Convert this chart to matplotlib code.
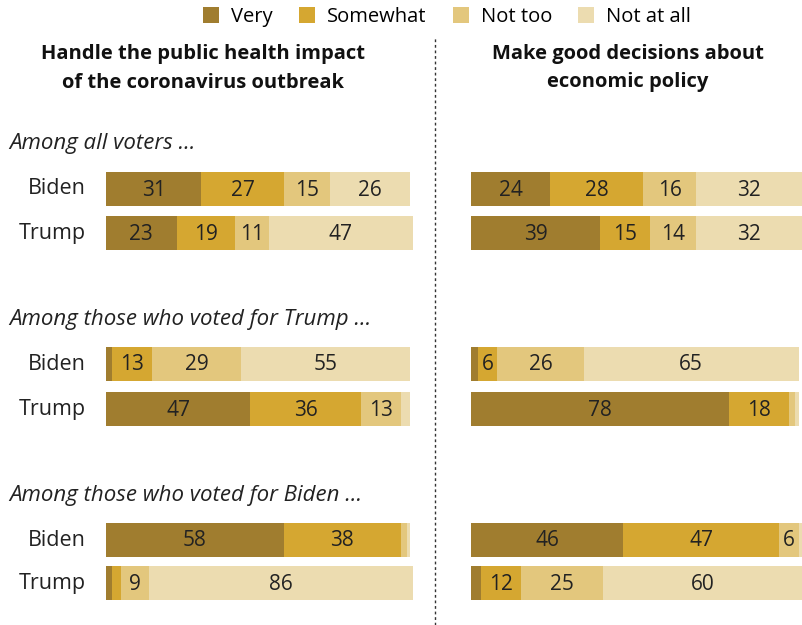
import matplotlib
matplotlib.use("Agg")
import matplotlib.pyplot as plt
from matplotlib.patches import Patch

plt.rcParams['font.family'] = ['Open Sans', 'DejaVu Sans']

categories = ["Very", "Somewhat", "Not too", "Not at all"]
colors = ["#a07d2f", "#d5a731", "#e3c77d", "#ecdcb0"]
groups = ["Among all voters ...", "Among those who voted for Trump ...", "Among those who voted for Biden ..."]
rows = ["Biden", "Trump"]
panel_titles = ["Handle the public health impact\nof the coronavirus outbreak",
                "Make good decisions about\neconomic policy"]

# values[panel][group*2+row] = [Very, Somewhat, Not too, Not at all]
health = [
    [31, 27, 15, 26],
    [23, 19, 11, 47],
    [2, 13, 29, 55],
    [47, 36, 13, 3],
    [58, 38, 2, 1],
    [2, 3, 9, 86],
]
economy = [
    [24, 28, 16, 32],
    [39, 15, 14, 32],
    [2, 6, 26, 65],
    [78, 18, 2, 1],
    [46, 47, 6, 1],
    [3, 12, 25, 60],
]

W, H = 802, 625
fig = plt.figure(figsize=(W / 100, H / 100), dpi=100)

row_y = [189, 233, 364, 409, 540, 583]
group_y = [144, 320, 495]
bar_h = 34

panels = [(106, 307, health), (471, 331, economy)]
for x0, w, data in panels:
    ax = fig.add_axes([x0 / W, 0, w / W, 1])
    ax.set_xlim(0, 100)
    ax.set_ylim(H, 0)
    ax.axis("off")
    for yi, vals in zip(row_y, data):
        left = 0
        for v, c in zip(vals, colors):
            ax.barh(yi, v, left=left, height=bar_h, color=c, edgecolor="none")
            if v >= 5:
                ax.text(left + v / 2, yi + 1, str(v), ha="center", va="center",
                        fontsize=15, color="#222222")
            left += v

# row labels
for i, yi in enumerate(row_y):
    fig.text(86 / W, 1 - yi / H, rows[i % 2], ha="right", va="center",
             fontsize=15.5, color="#222222")

# group labels
for g, gy in zip(groups, group_y):
    fig.text(9 / W, 1 - gy / H, g, ha="left", va="center", fontsize=16,
             style="italic", color="#222222")

# panel titles
fig.text(203 / W, 1 - 68 / H, panel_titles[0], ha="center", va="center",
         fontsize=14.5, fontweight="bold", color="#111111", linespacing=1.6)
fig.text(628 / W, 1 - 68 / H, panel_titles[1], ha="center", va="center",
         fontsize=14.5, fontweight="bold", color="#111111", linespacing=1.6)

# divider
fig.add_artist(plt.Line2D([435 / W, 435 / W], [0, 1 - 38 / H], transform=fig.transFigure,
                          color="#333333", lw=1, linestyle=(0, (2, 2))))

handles = [Patch(facecolor=c, edgecolor="none", label=l) for c, l in zip(colors, categories)]
fig.legend(handles=handles, loc="center", bbox_to_anchor=(447 / W, 1 - 17 / H), ncol=4,
           frameon=False, fontsize=14.5, handlelength=0.8, handleheight=0.8,
           handletextpad=0.6, columnspacing=1.3)

fig.savefig("out.png", dpi=100, facecolor="white")
